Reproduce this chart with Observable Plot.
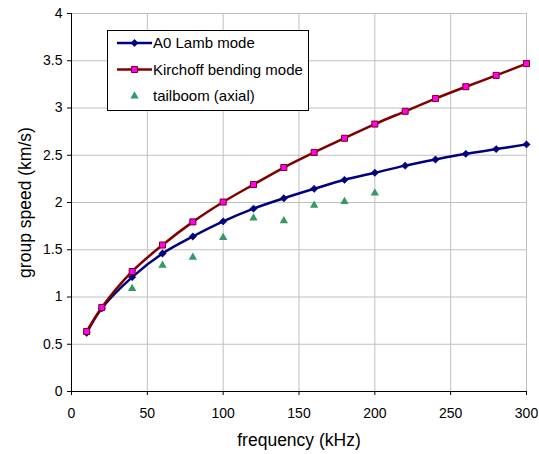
<!DOCTYPE html>
<html>
<head>
<meta charset="utf-8">
<script src="https://cdn.jsdelivr.net/npm/d3@7"></script>
<script src="https://cdn.jsdelivr.net/npm/@observablehq/plot@0.6"></script>
<style>
  html, body { margin: 0; padding: 0; background: #fff; }
  #wrap { position: relative; width: 539px; height: 454px; font-family: Arial, "Liberation Sans", sans-serif; }
  #legend { position: absolute; left: 107px; top: 30px; }
</style>
</head>
<body>
<div id="wrap"></div>
<script>
// ---- data ----
const frequency = [10, 20, 40, 60, 80, 100, 120, 140, 160, 180, 200, 220, 240, 260, 280, 300];
const a0Lamb = [0.62, 0.88, 1.21, 1.46, 1.64, 1.80, 1.935, 2.045, 2.145, 2.24, 2.315, 2.39, 2.455, 2.515, 2.565, 2.615];
const kirchoff = [0.635, 0.89, 1.27, 1.55, 1.795, 2.005, 2.19, 2.37, 2.53, 2.68, 2.83, 2.965, 3.10, 3.225, 3.345, 3.47];
const tailFrequency = [40, 60, 80, 100, 120, 140, 160, 180, 200];
const tailboom = [1.09, 1.335, 1.42, 1.63, 1.835, 1.805, 1.97, 2.01, 2.10];
const xTicks = [0, 50, 100, 150, 200, 250, 300];
const yTicks = [0, 0.5, 1, 1.5, 2, 2.5, 3, 3.5, 4];
const seriesNames = ["A0 Lamb mode", "Kirchoff bending mode", "tailboom (axial)"];
const xTitle = "frequency (kHz)";
const yTitle = "group speed (km/s)";

const a0Data = frequency.map((f, i) => ({f, v: a0Lamb[i]}));
const kData = frequency.map((f, i) => ({f, v: kirchoff[i]}));
const tData = tailFrequency.map((f, i) => ({f, v: tailboom[i]}));

const NAVY = "#000080", DARKRED = "#800000", MAGENTA = "#ff00ff", GREEN = "#339966";
const rDiamond = 3.3, rSquare = 3.4, rTriangle = 3.1;
const FONT = 'Arial, "Liberation Sans", sans-serif';

const chart = Plot.plot({
  width: 539,
  height: 454,
  marginLeft: 71,
  marginRight: 13,
  marginTop: 13,
  marginBottom: 63,
  x: {domain: [0, 300]},
  y: {domain: [0, 4]},
  style: {fontFamily: FONT, fontSize: "14px", color: "#000", background: "#fff", overflow: "visible"},
  marks: [
    Plot.gridX(xTicks, {stroke: "#c0c0c0", strokeOpacity: 1}),
    Plot.gridY(yTicks, {stroke: "#c0c0c0", strokeOpacity: 1}),
    Plot.axisX(xTicks, {tickSize: 4, tickPadding: 13, fontSize: 14, label: null, tickFormat: d => String(d)}),
    Plot.axisY(yTicks, {tickSize: 4, tickPadding: 5, fontSize: 14, label: null, tickFormat: d => String(d)}),
    Plot.ruleX([0], {stroke: "#000"}),
    Plot.ruleY([0], {stroke: "#000"}),
    Plot.line(a0Data, {x: "f", y: "v", curve: "catmull-rom", stroke: NAVY, strokeWidth: 2.5}),
    Plot.dot(a0Data, {x: "f", y: "v", symbol: "diamond2", r: rDiamond, fill: NAVY, stroke: NAVY, strokeWidth: 0.5}),
    Plot.line(kData, {x: "f", y: "v", curve: "catmull-rom", stroke: DARKRED, strokeWidth: 2.5}),
    Plot.dot(kData, {x: "f", y: "v", symbol: "square", r: rSquare, fill: MAGENTA, stroke: DARKRED, strokeWidth: 1}),
    Plot.dot(tData, {x: "f", y: "v", symbol: "triangle", r: rTriangle, fill: GREEN, stroke: "none"}),
    Plot.text([xTitle], {frameAnchor: "bottom", textAnchor: "middle", lineAnchor: "middle", dy: 49, fontSize: 17.5, fill: "#000"}),
    Plot.text([yTitle], {frameAnchor: "left", textAnchor: "middle", lineAnchor: "middle", dx: -46, rotate: -90, fontSize: 17.5, fill: "#000"})
  ]
});

const wrap = document.getElementById("wrap");
wrap.appendChild(chart);

// ---- legend (inside the plot area, boxed) ----
const lw = 202, lh = 81;
const leg = d3.create("svg")
  .attr("id", "legend")
  .attr("width", lw)
  .attr("height", lh)
  .style("font-family", FONT);
leg.append("rect").attr("x", 0.5).attr("y", 0.5).attr("width", lw - 1).attr("height", lh - 1)
  .attr("fill", "#fff").attr("stroke", "#000").attr("stroke-width", 1);

const rows = [
  {name: seriesNames[0], line: NAVY, sym: d3.symbolDiamond2, r: rDiamond, fill: NAVY, stroke: NAVY, sw: 0.5},
  {name: seriesNames[1], line: DARKRED, sym: d3.symbolSquare, r: rSquare, fill: MAGENTA, stroke: DARKRED, sw: 1},
  {name: seriesNames[2], line: null, sym: d3.symbolTriangle, r: rTriangle, fill: GREEN, stroke: "none", sw: 0}
];
rows.forEach((row, i) => {
  const cy = 13 + i * 26.5;
  const g = leg.append("g").attr("transform", `translate(0,${cy})`);
  if (row.line) {
    g.append("line").attr("x1", 10).attr("x2", 45).attr("y1", 0).attr("y2", 0)
      .attr("stroke", row.line).attr("stroke-width", 2.5);
  }
  g.append("path")
    .attr("transform", "translate(27.5,0)")
    .attr("d", d3.symbol().type(row.sym).size(row.r * row.r * Math.PI)())
    .attr("fill", row.fill).attr("stroke", row.stroke).attr("stroke-width", row.sw);
  g.append("text").attr("x", 46).attr("y", 0).attr("dy", "0.35em")
    .attr("font-size", 15).attr("fill", "#000").text(row.name);
});
wrap.appendChild(leg.node());
</script>
</body>
</html>
